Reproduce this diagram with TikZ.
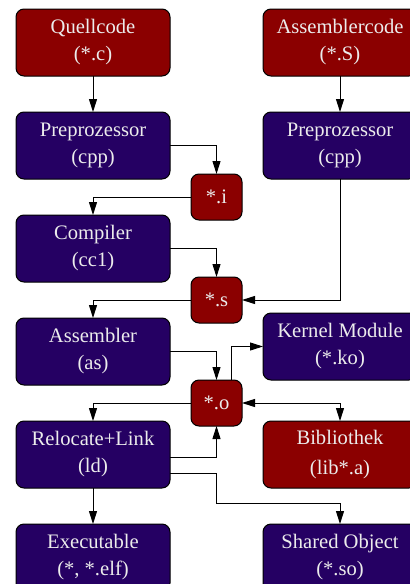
\documentclass[tikz,border=0pt]{standalone}
\usepackage{fontspec}
\setmainfont{Liberation Serif}
\usetikzlibrary{arrows.meta, positioning, calc}
\definecolor{filered}{RGB}{139,0,0}
\definecolor{toolblue}{RGB}{37,0,99}
\definecolor{boxtext}{RGB}{236,236,236}

\begin{document}
\begin{tikzpicture}[
    node distance=18pt and 46.5pt,
    box/.style={rectangle, rounded corners=4pt, minimum width=77pt, minimum height=33.5pt, outer sep=0pt, align=center, draw=black, line width=0.5pt, text=boxtext, font=\fontsize{10.3}{13.5}\selectfont},
    source/.style={box, fill=filered},
    tool/.style={box, fill=toolblue},
    temp/.style={rectangle, rounded corners=4pt, minimum width=25.5pt, minimum height=23pt, outer sep=0pt, text centered, draw=black, line width=0.5pt, fill=filered, text=boxtext, font=\fontsize{10.3}{12}\selectfont},
    arrow/.style={line width=0.5pt, ->, >={Triangle[length=6.5pt, width=4pt]}},
]
    \useasboundingbox (0,0) rectangle (204.5pt,-292pt);

    % Sources
    \node (quell) [source] at (46.5pt,-21.25pt) {Quellcode\\(*.c)};
    \node (asmcode) [source, right=of quell] {Assemblercode\\(*.S)};

    % Tool chain, left column
    \node (cpp) [tool, below=of quell] {Preprozessor\\(cpp)};
    \node (cc1) [tool, below=of cpp] {Compiler\\(cc1)};
    \node (as) [tool, below=of cc1] {Assembler\\(as)};
    \node (ld) [tool, below=of as] {Relocate+Link\\(ld)};
    \node (exe) [tool, below=of ld] {Executable\\(*, *.elf)};

    % Right column
    \node (cpp2) [tool, below=of asmcode] {Preprozessor\\(cpp)};
    \node (ko) [tool, right=of as, yshift=2.5pt] {Kernel Module\\(*.ko)};
    \node (lib) [source, right=of ld] {Bibliothek\\[1.5pt](lib*.a)};
    \node (so) [tool, right=of exe] {Shared Object\\(*.so)};

    % Intermediate files
    \node (i) [temp] at ($(cpp.east)!0.5!(cc1.east)+(23.25pt,0)$) {*.i};
    \node (s) [temp] at ($(cc1.east)!0.5!(as.east)+(23.25pt,0)$) {*.s};
    \node (o) [temp] at ($(as.east)!0.5!(ld.east)+(23.25pt,0)$) {*.o};

    \draw [arrow] (quell) -- (cpp);
    \draw [arrow] (asmcode) -- (cpp2);
    \draw [arrow] (cpp.east) -| (i.north);
    \draw [arrow] (i.west) -| (cc1.north);
    \draw [arrow] (cc1.east) -| (s.north);
    \draw [arrow] (cpp2.south) |- (s.east);
    \draw [arrow] (s.west) -| (as.north);
    \draw [arrow] (as.east) -| (o.north);
    \draw [arrow] ([xshift=7.5pt]o.north) |- (ko.west);
    \draw [arrow] (o.west) -| (ld.north);
    \draw [arrow, <->] (o.east) -| (lib.north);
    \draw [arrow] ([yshift=-1.25pt]ld.east) -| (o.south);
    \draw [arrow] ([yshift=-9.25pt]ld.east) -| ++(23.25pt,-15pt) -| (so.north);
    \draw [arrow] (ld) -- (exe);

\end{tikzpicture}
\end{document}
